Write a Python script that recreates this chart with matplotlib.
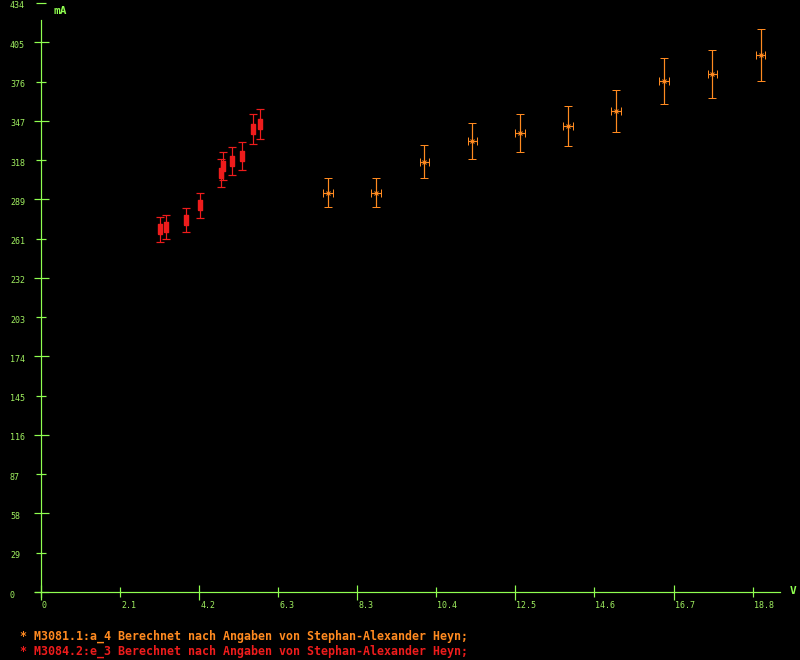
import numpy as np
import matplotlib.pyplot as plt
import matplotlib.transforms as mtransforms

# series M3081.1 (orange)
orange_x = [7.59, 8.85, 10.13, 11.40, 12.66, 13.93, 15.19, 16.47, 17.74, 19.01]
orange_y = [294.2, 294.2, 317.1, 332.1, 338.0, 343.1, 354.4, 376.3, 381.7, 395.7]
orange_err = [10.8, 10.8, 12.2, 13.3, 13.9, 14.7, 15.3, 16.9, 17.7, 19.2]
orange_xerr = 0.13

# series M3084.2 (red)
red_x = [3.14, 3.30, 3.82, 4.19, 4.76, 4.82, 5.05, 5.30, 5.61, 5.78]
red_y = [267.3, 268.8, 274.0, 284.8, 308.5, 313.7, 317.5, 321.0, 341.0, 344.6]
red_err = [9.2, 9.0, 8.8, 9.4, 10.3, 10.2, 10.2, 10.3, 10.9, 11.1]

xtick_labels = ['0', '2.1', '4.2', '6.3', '8.3', '10.4', '12.5', '14.6', '16.7', '18.8']
ytick_labels = ['0', '29', '58', '87', '116', '145', '174', '203', '232', '261',
                '289', '318', '347', '376', '405', '434']

legend_lines = [
    ('* M3081.1:a_4 Berechnet nach Angaben von Stephan-Alexander Heyn;', '#ff8a20'),
    ('* M3084.2:e_3 Berechnet nach Angaben von Stephan-Alexander Heyn;', '#ee1c1c'),
]

GREEN = '#90ff50'
LABEL_GREEN = '#a0f060'
ORANGE = '#ff8a20'
RED = '#ee1c1c'
PX = 0.72  # one pixel in points at dpi 100

fig = plt.figure(figsize=(8, 6.6), dpi=100, facecolor='black')
ax = fig.add_axes([0, 60 / 660, 1, 600 / 660])
ax.set_facecolor('black')

# pixel mapping: x=0 at px 41, 37.85 px/unit ; y=0 at px 592, 1.35714 px/unit
sx, sy = 37.85, 589 / 434
ax.set_xlim(-41 / sx, 759 / sx)
ax.set_ylim(-8 / sy, 592 / sy)

for s in ['top', 'right']:
    ax.spines[s].set_visible(False)
for s in ['left', 'bottom']:
    ax.spines[s].set_color(GREEN)
    ax.spines[s].set_linewidth(1.2 * PX)
    ax.spines[s].set_position(('data', 0))
ax.spines['left'].set_bounds(-5 / sy, 572 / sy)
ax.spines['bottom'].set_bounds(-6 / sx, 739 / sx)

# ticks: alternate long (major) and short (minor)
xt = np.linspace(0, 18.8, len(xtick_labels))
yt = np.linspace(0, 434, len(ytick_labels))
ax.set_xticks(xt[0::2])
ax.set_xticks(xt[1::2], minor=True)
ax.set_yticks(yt[0::2])
ax.set_yticks(yt[1::2], minor=True)
ax.set_xticklabels([])
ax.set_xticklabels([], minor=True)
ax.set_yticklabels([])
ax.set_yticklabels([], minor=True)
ax.tick_params(which='major', direction='inout', length=15 * PX, width=1.2 * PX, color=GREEN)
ax.tick_params(which='minor', direction='inout', length=10 * PX, width=1.2 * PX, color=GREEN)

tick_font = dict(family='DejaVu Sans Mono', fontsize=6, color=LABEL_GREEN)
tx = mtransforms.offset_copy(ax.transData, fig=fig, x=1, y=-13, units='dots')
for v, lab in zip(xt, xtick_labels):
    ax.text(v, 0, lab, transform=tx, ha='left', va='center', **tick_font)
ty = mtransforms.blended_transform_factory(fig.transFigure, ax.transData)
ty = mtransforms.offset_copy(ty, fig=fig, x=0, y=-3, units='dots')
for v, lab in zip(yt, ytick_labels):
    ax.text(10 / 800, v, lab, transform=ty, ha='left', va='center', **tick_font)

# axis units
fig.text(54 / 800, 1 - 11 / 660, 'mA', ha='left', va='center', family='DejaVu Sans Mono',
         fontweight='bold', fontsize=8, color=GREEN)
fig.text(790 / 800, 1 - 591 / 660, 'V', ha='left', va='center', family='DejaVu Sans Mono',
         fontweight='bold', fontsize=8, color=GREEN)

# data
ax.errorbar(orange_x, orange_y, yerr=orange_err, xerr=orange_xerr, fmt='x',
            color=ORANGE, ms=4 * PX, mew=1 * PX, elinewidth=1.2 * PX,
            capsize=3.2, capthick=1.2 * PX, zorder=3)

bar_marker = [(-0.35, -1), (0.35, -1), (0.35, 1), (-0.35, 1), (-0.35, -1)]
ax.errorbar(red_x, red_y, yerr=red_err, fmt='none', ecolor=RED,
            elinewidth=1.2 * PX, capsize=3.2, capthick=1.2 * PX, zorder=3)
ax.plot(red_x, red_y, linestyle='none', marker=bar_marker, ms=10 * PX,
        color=RED, mec=RED, zorder=4)

# legend text
for i, (txt, col) in enumerate(legend_lines):
    fig.text(20 / 800, 1 - (636 + 15 * i) / 660, txt, ha='left', va='center',
             family='DejaVu Sans Mono', fontweight='bold', fontsize=8.4, color=col)

fig.savefig('out.png', dpi=100, facecolor='black')
